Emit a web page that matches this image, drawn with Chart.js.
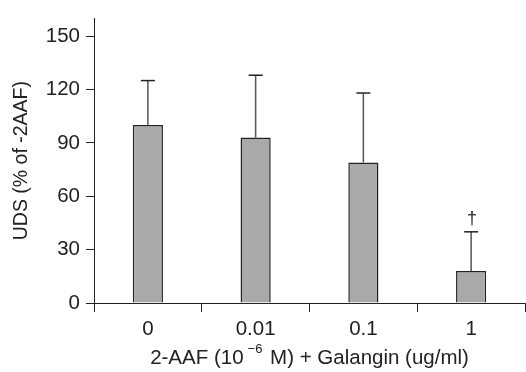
<!DOCTYPE html>
<html>
<head>
<meta charset="utf-8">
<script src="https://cdn.jsdelivr.net/npm/chart.js@4/dist/chart.umd.min.js"></script>
<style>
  html, body { margin: 0; padding: 0; background: #fff; }
  #wrap { width: 526px; height: 372px; }
</style>
</head>
<body>
<div id="wrap"><canvas id="c" width="526" height="372"></canvas></div>
<script>
// data
const doses = ['0', '0.01', '0.1', '1'];
const udsMean = [100, 93, 79, 18];
const udsErr = [25, 35, 39, 22];      // upper error bar (SD)
const marks = ['', '', '', '\u2020']; // significance dagger
const yTicks = [0, 30, 60, 90, 120, 150];

const FONT = 'Liberation Sans, Arial, sans-serif';
const FS = 20.5;
const ink = '#222';

const errorBars = {
  id: 'errorBars',
  afterDatasetsDraw(chart) {
    const ctx = chart.ctx;
    const y = chart.scales.y;
    const meta = chart.getDatasetMeta(0);
    ctx.save();
    meta.data.forEach((bar, i) => {
      const top = y.getPixelForValue(udsMean[i]);
      const hi = y.getPixelForValue(udsMean[i] + udsErr[i]);
      ctx.strokeStyle = '#555';
      ctx.lineWidth = 1.5;
      ctx.beginPath();
      ctx.moveTo(bar.x, top);
      ctx.lineTo(bar.x, hi);
      ctx.stroke();
      ctx.strokeStyle = ink;
      ctx.beginPath();
      ctx.moveTo(bar.x - 7, hi);
      ctx.lineTo(bar.x + 7, hi);
      ctx.stroke();
      if (marks[i]) {
        ctx.fillStyle = ink;
        ctx.font = '18px ' + FONT;
        ctx.textAlign = 'center';
        ctx.textBaseline = 'bottom';
        ctx.fillText(marks[i], bar.x + 1, hi - 4);
      }
    });
    ctx.restore();
  }
};

// x title has a superscript, so it is drawn by hand
const xTitle = {
  id: 'xTitle',
  afterDraw(chart) {
    const ctx = chart.ctx;
    const a = chart.chartArea;
    const p1 = '2-AAF (10', sup = '\u22126', p2 = ' M) + Galangin (ug/ml)';
    ctx.save();
    ctx.fillStyle = ink;
    ctx.textBaseline = 'alphabetic';
    ctx.textAlign = 'left';
    ctx.font = FS + 'px ' + FONT;
    const w1 = ctx.measureText(p1).width, w3 = ctx.measureText(p2).width;
    ctx.font = '13px ' + FONT;
    const w2 = ctx.measureText(sup).width + 6;
    const x0 = (a.left + a.right) / 2 - (w1 + w2 + w3) / 2;
    const base = 364;
    ctx.font = FS + 'px ' + FONT;
    ctx.fillText(p1, x0, base);
    ctx.font = '13px ' + FONT;
    ctx.fillText(sup, x0 + w1 + 4, base - 11);
    ctx.font = FS + 'px ' + FONT;
    ctx.fillText(p2, x0 + w1 + w2, base);
    ctx.restore();
  }
};

new Chart(document.getElementById('c'), {
  type: 'bar',
  data: {
    labels: doses,
    datasets: [{
      data: udsMean,
      backgroundColor: '#a9a9a9',
      borderColor: '#222',
      borderWidth: 1.5,
      categoryPercentage: 1,
      barPercentage: 0.28
    }]
  },
  options: {
    responsive: false,
    animation: false,
    layout: { padding: { top: 8, right: 1, left: 0, bottom: 0 } },
    plugins: { legend: { display: false }, tooltip: { enabled: false } },
    scales: {
      x: {
        afterFit: (s) => { s.height = 69; },
        border: { display: true, color: ink, width: 1 },
        grid: { display: true, drawOnChartArea: false, drawTicks: true, tickLength: 9, color: ink, offset: true },
        ticks: { color: ink, font: { family: FONT, size: FS }, padding: 5, maxRotation: 0 }
      },
      y: {
        min: 0,
        max: 160,
        afterFit: (s) => { s.width = 94; },
        afterBuildTicks: (s) => { s.ticks = yTicks.map((v) => ({ value: v })); },
        border: { display: true, color: ink, width: 1 },
        grid: { display: true, drawOnChartArea: false, drawTicks: true, tickLength: 8, color: ink },
        ticks: { color: ink, font: { family: FONT, size: FS }, padding: 6 },
        title: {
          display: true,
          text: 'UDS (% of -2AAF)',
          color: ink,
          font: { family: FONT, size: 19.5 },
          padding: { top: 10, bottom: 0 }
        }
      }
    }
  },
  plugins: [errorBars, xTitle]
});
</script>
</body>
</html>
